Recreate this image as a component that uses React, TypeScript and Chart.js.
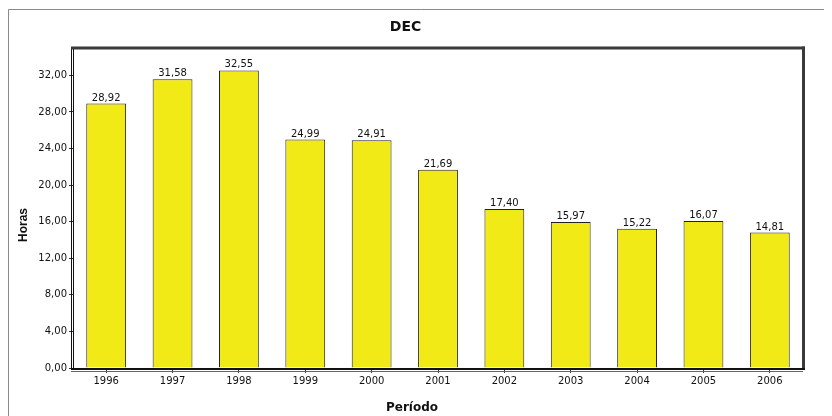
import React, { useEffect, useRef } from "react";
import { Chart, registerables } from "chart.js";

Chart.register(...registerables);

const categories = ["1996", "1997", "1998", "1999", "2000", "2001", "2002", "2003", "2004", "2005", "2006"];
const decValues = [28.92, 31.58, 32.55, 24.99, 24.91, 21.69, 17.4, 15.97, 15.22, 16.07, 14.81];
const yTicks = [0, 4, 8, 12, 16, 20, 24, 28, 32];
const chartTitle = "DEC";
const yTitle = "Horas";
const xTitle = "Período";

const fmt = (v: number) => v.toFixed(2).replace(".", ",");

const decor = {
  id: "decor",
  beforeDraw(chart: any) {
    const ctx = chart.ctx;
    ctx.save();
    ctx.fillStyle = "#ffffff";
    ctx.fillRect(0, 0, chart.width, chart.height);
    ctx.strokeStyle = "#8a8a8a";
    ctx.lineWidth = 1;
    ctx.beginPath();
    ctx.moveTo(0.5, chart.height);
    ctx.lineTo(0.5, 1.5);
    ctx.lineTo(chart.width, 1.5);
    ctx.stroke();
    ctx.restore();
  },
  afterDatasetsDraw(chart: any) {
    const ctx = chart.ctx;
    const a = chart.chartArea;
    ctx.save();
    ctx.strokeStyle = "#111";
    ctx.lineWidth = 1;
    ctx.beginPath();
    ctx.moveTo(a.left - 1.5, a.top - 1);
    ctx.lineTo(a.left - 1.5, a.bottom + 1);
    ctx.moveTo(a.left + 0.5, a.top);
    ctx.lineTo(a.left + 0.5, a.bottom);
    ctx.stroke();
    ctx.strokeStyle = "#3a3a3a";
    ctx.lineWidth = 3;
    ctx.beginPath();
    ctx.moveTo(a.left - 2, a.top);
    ctx.lineTo(a.right + 2, a.top);
    ctx.stroke();
    ctx.beginPath();
    ctx.moveTo(a.right + 0.5, a.top - 1.5);
    ctx.lineTo(a.right + 0.5, a.bottom + 2);
    ctx.stroke();
    ctx.strokeStyle = "#111";
    ctx.lineWidth = 2;
    ctx.beginPath();
    ctx.moveTo(a.left - 2, a.bottom + 1);
    ctx.lineTo(a.right + 2, a.bottom + 1);
    ctx.stroke();
    ctx.lineWidth = 1;
    ctx.strokeStyle = "#666";
    ctx.beginPath();
    ctx.moveTo(a.left - 2, a.bottom + 3.5);
    ctx.lineTo(a.right, a.bottom + 3.5);
    ctx.stroke();

    const meta = chart.getDatasetMeta(0);
    ctx.fillStyle = "#111";
    ctx.font = "10px 'DejaVu Sans'";
    ctx.textAlign = "center";
    ctx.textBaseline = "alphabetic";
    meta.data.forEach((bar: any, i: number) => {
      ctx.fillText(fmt(decValues[i]), bar.x, bar.y - 3);
    });

    ctx.font = "bold 12px 'DejaVu Sans'";
    ctx.textBaseline = "middle";
    ctx.fillText(xTitle, (a.left + a.right) / 2 - 26, a.bottom + 40);
    ctx.save();
    ctx.translate(16, (a.top + a.bottom) / 2 + 17);
    ctx.rotate(-Math.PI / 2);
    ctx.font = "bold 12px 'Liberation Sans'";
    ctx.fillText(yTitle, 0, 0);
    ctx.restore();
    ctx.restore();
  },
};

export default function App() {
  const ref = useRef<HTMLCanvasElement | null>(null);
  useEffect(() => {
    if (!ref.current) return;
    const chart = new Chart(ref.current, {
      type: "bar",
      data: {
        labels: categories,
        datasets: [
          {
            label: chartTitle,
            data: decValues,
            backgroundColor: "#F2EA16",
            borderColor: "#222",
            borderWidth: 1,
            barPercentage: 0.6,
            categoryPercentage: 1,
          },
        ],
      },
      options: {
        responsive: false,
        animation: false,
        devicePixelRatio: 1,
        layout: { padding: { left: 0, right: 29, top: 0, bottom: 0 } },
        plugins: {
          legend: { display: false },
          tooltip: { enabled: false },
          title: {
            display: true,
            text: chartTitle,
            color: "#111",
            font: { family: "'DejaVu Sans'", size: 14, weight: "bold" },
            padding: { top: 11, bottom: 12.2 },
          },
        },
        scales: {
          x: {
            offset: true,
            border: { display: false },
            grid: { display: true, drawOnChartArea: false, offset: false, tickLength: 5, color: "#333" },
            ticks: { color: "#111", font: { family: "'DejaVu Sans'", size: 10 }, padding: 2, maxRotation: 0 },
            afterFit: (s: any) => {
              s.height = 48;
            },
          },
          y: {
            min: 0,
            max: 35,
            border: { display: false },
            grid: { display: true, drawOnChartArea: false, tickLength: 4, color: "#333" },
            ticks: {
              color: "#111",
              font: { family: "'DejaVu Sans'", size: 10 },
              padding: 2,
              callback: (v: any) => fmt(Number(v)),
            },
            afterBuildTicks: (s: any) => {
              s.ticks = yTicks.map((v) => ({ value: v }));
            },
            afterFit: (s: any) => {
              s.width = 65;
            },
          },
        },
      },
      plugins: [decor],
    });
    return () => chart.destroy();
  }, []);
  return (
    <div style={{ width: 824, height: 408 }}>
      <canvas ref={ref} width={824} height={408} style={{ display: "block" }} />
    </div>
  );
}
